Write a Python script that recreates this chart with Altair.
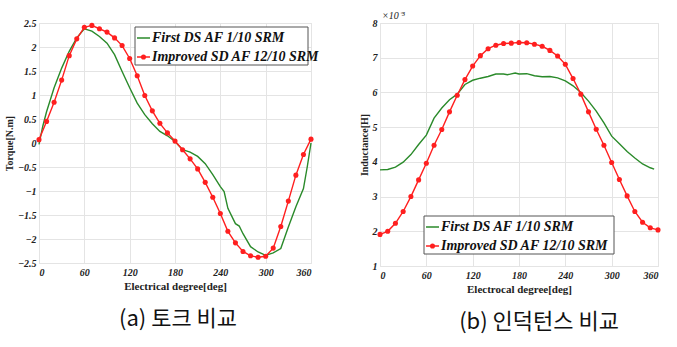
import altair as alt
import pandas as pd

# ---------------- data ----------------
deg_red = list(range(0, 361, 10))
torque_improved = [0.07, 0.45, 0.85, 1.31, 1.82, 2.17, 2.41, 2.45, 2.38, 2.31,
                   2.19, 2.03, 1.76, 1.40, 0.99, 0.67, 0.41, 0.21, 0.04, -0.14,
                   -0.33, -0.54, -0.82, -1.13, -1.47, -1.84, -2.08, -2.26, -2.35, -2.38,
                   -2.36, -2.19, -1.74, -1.21, -0.67, -0.24, 0.08]
torque_first_deg = [0, 5, 10, 20, 30, 40, 50, 60, 70, 80, 90, 100, 110, 120, 130, 140,
                    150, 160, 170, 180, 190, 200, 210, 220, 230, 240, 245, 250, 260,
                    265, 270, 280, 290, 300, 310, 320, 330, 340, 350, 355, 360]
torque_first = [-0.03, 0.35, 0.65, 1.15, 1.56, 1.91, 2.19, 2.38, 2.33, 2.22, 2.08, 1.84,
                1.49, 1.15, 0.83, 0.59, 0.40, 0.24, 0.15, 0.03, -0.14, -0.19, -0.28,
                -0.43, -0.66, -0.91, -1.01, -1.36, -1.68, -1.73, -1.89, -2.16, -2.27,
                -2.34, -2.29, -2.20, -1.75, -1.33, -0.95, -0.50, 0.0]

ind_improved = [1.91, 2.00, 2.23, 2.57, 3.00, 3.48, 3.96, 4.48, 4.93, 5.44,
                5.92, 6.37, 6.76, 7.06, 7.26, 7.36, 7.41, 7.42, 7.44, 7.43,
                7.39, 7.33, 7.21, 7.05, 6.81, 6.40, 5.95, 5.44, 4.94, 4.48,
                3.98, 3.49, 3.02, 2.57, 2.26, 2.10, 2.04]
ind_first_deg = [0, 10, 20, 30, 40, 50, 60, 70, 80, 90, 100, 110, 120, 130, 140, 150,
                 160, 165, 175, 180, 190, 200, 210, 220, 230, 240, 250, 260, 270, 280,
                 290, 300, 310, 320, 330, 340, 350, 355]
ind_first = [3.77, 3.78, 3.85, 3.99, 4.21, 4.50, 4.77, 5.26, 5.55, 5.79, 5.95, 6.23,
             6.35, 6.41, 6.46, 6.53, 6.53, 6.51, 6.56, 6.53, 6.54, 6.48, 6.45, 6.46,
             6.42, 6.33, 6.19, 6.00, 5.75, 5.46, 5.12, 4.74, 4.52, 4.30, 4.11, 3.94,
             3.83, 3.79]

series_names = ["First DS AF 1/10 SRM", "Improved SD AF 12/10 SRM"]
x_ticks = [0, 60, 120, 180, 240, 300, 360]
torque_ticks = [-2.5, -2, -1.5, -1, -0.5, 0, 0.5, 1, 1.5, 2, 2.5]
ind_ticks = [1, 2, 3, 4, 5, 6, 7, 8]
captions = ["(a) 토크 비교", "(b) 인덕턴스 비교"]

GREEN = "#2a8a2a"
RED = "#ff1f1f"
SERIF = "Liberation Serif"
KR = "Noto Sans CJK KR"

torque_df = pd.concat([
    pd.DataFrame({"deg": torque_first_deg, "val": torque_first, "s": series_names[0]}),
    pd.DataFrame({"deg": deg_red, "val": torque_improved, "s": series_names[1]}),
])
ind_df = pd.concat([
    pd.DataFrame({"deg": ind_first_deg, "val": ind_first, "s": series_names[0]}),
    pd.DataFrame({"deg": deg_red, "val": ind_improved, "s": series_names[1]}),
])
one = pd.DataFrame({"a": [0]})


def panel(df, ydom, yticks, ytitle, xtitle, w, h, leg, caption, cap_dx):
    xax = alt.Axis(values=x_ticks, title=xtitle, grid=True, gridColor="#e4e4e4",
                   ticks=False, domain=False, labelFont=SERIF, labelFontStyle="italic",
                   labelFontWeight="bold", labelFontSize=10, labelColor="#222",
                   labelPadding=4, titleFont=SERIF, titleFontWeight="bold",
                   titleFontSize=11, titleColor="#222", titlePadding=3)
    yax = alt.Axis(values=yticks, title=ytitle, format="~g", grid=True,
                   gridColor="#e4e4e4", ticks=False, domain=False, labelFont=SERIF,
                   labelFontStyle="italic", labelFontWeight="bold", labelFontSize=10,
                   labelColor="#222", labelPadding=3, titleFont=SERIF,
                   titleFontWeight="bold", titleFontSize=10, titleColor="#222",
                   titlePadding=3)
    x = alt.X("deg:Q", scale=alt.Scale(domain=[0, 360], nice=False), axis=xax)
    y = alt.Y("val:Q", scale=alt.Scale(domain=ydom, nice=False), axis=yax)
    color = alt.Color("s:N", scale=alt.Scale(domain=series_names, range=[GREEN, RED]),
                      legend=None)
    green = alt.Chart(df).transform_filter(alt.datum.s == series_names[0]).mark_line(
        strokeWidth=1.4).encode(x=x, y=y, color=color)
    redl = alt.Chart(df).transform_filter(alt.datum.s == series_names[1]).mark_line(
        strokeWidth=1.4).encode(x=x, y=y, color=color)
    redp = alt.Chart(df).transform_filter(alt.datum.s == series_names[1]).mark_point(
        filled=True, size=26, opacity=1).encode(x=x, y=y, color=color)

    lx0, lx1, ly0, ly1, r1, r2, sx0, sx1, tx = leg
    box = alt.Chart(one).mark_rect(fill="white", stroke="#555", strokeWidth=1).encode(
        x=alt.value(lx0), x2=alt.value(lx1), y=alt.value(ly0), y2=alt.value(ly1))
    l1 = alt.Chart(one).mark_rule(color=GREEN, strokeWidth=1.5).encode(
        x=alt.value(sx0), x2=alt.value(sx1), y=alt.value(r1))
    l2 = alt.Chart(one).mark_rule(color=RED, strokeWidth=1.5).encode(
        x=alt.value(sx0), x2=alt.value(sx1), y=alt.value(r2))
    p2 = alt.Chart(one).mark_point(filled=True, size=26, color=RED, opacity=1).encode(
        x=alt.value((sx0 + sx1) / 2), y=alt.value(r2))
    t1 = alt.Chart(one).mark_text(font=SERIF, fontSize=14, fontStyle="italic",
                                  fontWeight="bold", align="left", baseline="middle",
                                  color="#111").encode(
        x=alt.value(tx), y=alt.value(r1), text=alt.value(series_names[0]))
    t2 = alt.Chart(one).mark_text(font=SERIF, fontSize=14, fontStyle="italic",
                                  fontWeight="bold", align="left", baseline="middle",
                                  color="#111").encode(
        x=alt.value(tx), y=alt.value(r2), text=alt.value(series_names[1]))
    layers = [green, redl, redp, box, l1, l2, p2, t1, t2]
    return alt.layer(*layers).properties(
        width=w, height=h,
        title=alt.TitleParams(caption, orient="bottom", anchor="middle", frame="group",
                              font=KR, fontSize=22, fontWeight="normal", color="#111",
                              offset=18, dx=cap_dx))


left = panel(torque_df, [-2.5, 2.5], torque_ticks, "Torque[N.m]",
             "Electrical degree[deg]", 272, 240,
             (96, 269, 4, 42, 15, 34, 98, 111, 113), captions[0], 3)

right_base = panel(ind_df, [1, 8], ind_ticks, "Inductance[H]",
                   "Electrocal degree[deg]", 278, 243,
                   (44, 234, 193, 231, 204, 223, 46, 59, 61), captions[1], 20)
exp_txt = alt.Chart(one).mark_text(font=SERIF, fontSize=10, fontStyle="italic",
                                   align="left", baseline="bottom", color="#222").encode(
    x=alt.value(2), y=alt.value(-2), text=alt.value("×10⁻³"))
right = alt.layer(right_base, exp_txt)

chart = alt.hconcat(left, right, spacing=38).properties(
    padding={"left": 3, "top": 10, "right": 5, "bottom": 5}
).configure_view(stroke="#888", strokeWidth=1).configure(background="white")

chart.save("out.html", embed_options={"renderer": "svg", "actions": False})
